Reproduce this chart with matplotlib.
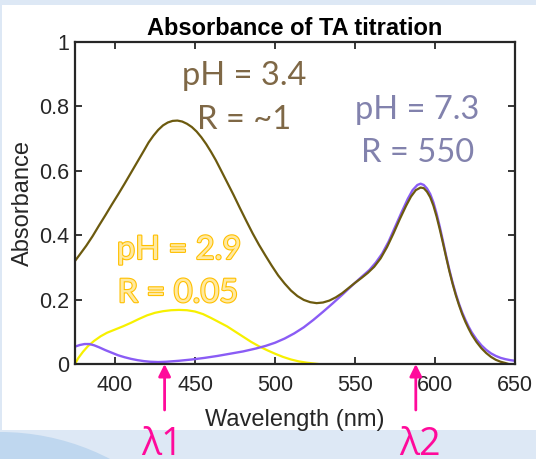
import matplotlib
matplotlib.use("Agg")
import matplotlib.pyplot as plt
import matplotlib.patheffects as pe
from matplotlib.patches import Rectangle, Ellipse

# Dados (comprimento de onda em nm, absorbância)
wl_ph34 = [375, 378, 382, 386, 390, 394, 398, 402, 406, 410, 414, 418, 421, 424,
           427, 430, 433, 436, 439, 442, 445, 448, 451, 454, 457, 460, 463, 466,
           470, 474, 478, 482, 486, 490, 494, 498, 502, 506, 510, 514, 518, 522,
           526, 530, 534, 538, 542, 546, 550, 554, 558, 562, 566, 570, 574, 578,
           582, 585, 588, 591, 593, 595, 597, 599, 601, 603, 605, 607, 609, 611,
           613, 615, 617, 619, 621, 623, 626, 629, 632, 635, 638, 641, 644, 646]
abs_ph34 = [0.320, 0.340, 0.367, 0.397, 0.430, 0.462, 0.495, 0.527, 0.560, 0.594,
            0.628, 0.662, 0.688, 0.709, 0.727, 0.741, 0.750, 0.755, 0.756, 0.753,
            0.746, 0.736, 0.722, 0.704, 0.683, 0.659, 0.633, 0.604, 0.565, 0.526,
            0.485, 0.445, 0.406, 0.370, 0.337, 0.305, 0.275, 0.250, 0.228, 0.211,
            0.199, 0.192, 0.189, 0.191, 0.197, 0.207, 0.220, 0.236, 0.252, 0.267,
            0.283, 0.302, 0.328, 0.363, 0.405, 0.450, 0.492, 0.520, 0.540, 0.548,
            0.546, 0.535, 0.518, 0.492, 0.458, 0.418, 0.375, 0.331, 0.288, 0.249,
            0.214, 0.183, 0.155, 0.131, 0.110, 0.091, 0.068, 0.049, 0.034, 0.022,
            0.013, 0.007, 0.003, 0.000]

wl_ph73 = [375, 378, 381, 384, 387, 390, 394, 398, 402, 406, 410, 414, 418, 422,
           427, 432, 440, 448, 456, 464, 472, 480, 488, 494, 500, 506, 512, 518,
           524, 530, 536, 542, 548, 554, 559, 563, 567, 571, 575, 579, 583, 586,
           589, 591, 593, 595, 597, 599, 601, 603, 605, 607, 609, 611, 613, 615,
           617, 619, 621, 623, 626, 629, 632, 635, 638, 641, 644, 647, 650]
abs_ph73 = [0.054, 0.059, 0.062, 0.062, 0.058, 0.052, 0.043, 0.035, 0.027, 0.021,
            0.016, 0.012, 0.009, 0.007, 0.006, 0.007, 0.010, 0.014, 0.019, 0.025,
            0.032, 0.039, 0.048, 0.056, 0.066, 0.079, 0.095, 0.114, 0.137, 0.162,
            0.188, 0.215, 0.243, 0.270, 0.292, 0.315, 0.343, 0.380, 0.425, 0.470,
            0.513, 0.540, 0.556, 0.560, 0.556, 0.545, 0.528, 0.502, 0.467, 0.426,
            0.381, 0.335, 0.292, 0.253, 0.218, 0.187, 0.160, 0.137, 0.116, 0.098,
            0.076, 0.058, 0.044, 0.033, 0.025, 0.019, 0.015, 0.012, 0.010]

wl_ph29 = [375, 377, 380, 383, 387, 391, 395, 400, 405, 410, 415, 420, 425, 430,
           435, 440, 445, 450, 455, 460, 465, 470, 475, 480, 485, 490, 495, 500,
           505, 510, 515, 520, 527]
abs_ph29 = [0.000, 0.018, 0.038, 0.055, 0.072, 0.086, 0.097, 0.107, 0.117, 0.128,
            0.140, 0.151, 0.159, 0.164, 0.167, 0.168, 0.167, 0.163, 0.155, 0.143,
            0.130, 0.117, 0.101, 0.085, 0.069, 0.055, 0.043, 0.032, 0.022, 0.014,
            0.008, 0.004, 0.000]

x_ticks = [400, 450, 500, 550, 600, 650]
y_ticks = [0, 0.2, 0.4, 0.6, 0.8, 1]
y_tick_labels = ["0", "0.2", "0.4", "0.6", "0.8", "1"]

lambda_pos = [431, 588]
lambda_labels = ["λ1", "λ2"]

fig = plt.figure(figsize=(5.36, 4.59), dpi=100)
fig.patch.set_facecolor("#dde8f5")

# fundo estilo slide
fig.patches.append(Ellipse((0, -211 / 459), 2 * 238 / 536, 2 * 238 / 459,
                           transform=fig.transFigure, facecolor="#bfd7ef",
                           edgecolor="none", zorder=-3))
fig.patches.append(Rectangle((2 / 536, 29 / 459), 1, 425 / 459,
                             transform=fig.transFigure, facecolor="white",
                             edgecolor="none", zorder=-2))

ax = fig.add_axes([75 / 536, 95 / 459, 440 / 536, 322 / 459])
ax.set_facecolor("white")

ax.plot(wl_ph29, abs_ph29, color="#f7f000", lw=1.6)
ax.plot(wl_ph73, abs_ph73, color="#8a5cf5", lw=1.7)
ax.plot(wl_ph34, abs_ph34, color="#6c5a0e", lw=1.6)

ax.set_xlim(375, 650)
ax.set_ylim(0, 1)
ax.set_xticks(x_ticks)
ax.set_yticks(y_ticks)
ax.set_yticklabels(y_tick_labels)

for lab in ax.get_xticklabels() + ax.get_yticklabels():
    lab.set_fontfamily("Liberation Sans")
    lab.set_fontsize(15.5)

ax.tick_params(direction="in", length=5, width=1.3, color="#262626",
               labelcolor="#262626", top=True, right=True)
ax.tick_params(axis="x", pad=8)
ax.tick_params(axis="y", pad=4)
for s in ax.spines.values():
    s.set_linewidth(1.6)
    s.set_color("#262626")

ax.set_title("Absorbance of TA titration", fontsize=17, fontweight="bold",
             fontfamily="Liberation Sans", pad=5)
ax.set_xlabel("Wavelength (nm)", fontsize=17, fontfamily="Liberation Sans",
              color="#262626", labelpad=9)
ax.set_ylabel("Absorbance", fontsize=17, fontfamily="Liberation Sans",
              color="#262626", labelpad=4)

# anotações de texto
fam = ["Lato", "DejaVu Sans"]
fs = 23.5
ax.text(480.6, 0.894, "pH = 3.4", color="#7f6846", fontsize=fs, family=fam,
        ha="center", va="center")
ax.text(480.6, 0.758, "R = ~1", color="#7f6846", fontsize=fs, family=fam,
        ha="center", va="center")
ax.text(589, 0.789, "pH = 7.3", color="#8282ad", fontsize=fs, family=fam,
        ha="center", va="center")
ax.text(589, 0.655, "R = 550", color="#8282ad", fontsize=fs, family=fam,
        ha="center", va="center")
glow = [pe.withStroke(linewidth=1.6, foreground="#ffc000")]
ax.text(440, 0.354, "pH = 2.9", color="#ffe9a0", fontsize=fs, family=fam,
        ha="center", va="center", path_effects=glow)
ax.text(439.4, 0.220, "R = 0.05", color="#ffe9a0", fontsize=fs, family=fam,
        ha="center", va="center", path_effects=glow)

# setas e rótulos lambda
for lam, txt, dx in zip(lambda_pos, lambda_labels, [-3, 4]):
    ax.annotate("", xy=(lam, 0), xytext=(0, -46), textcoords="offset pixels",
                arrowprops=dict(arrowstyle="-|>", color="#ff0a9b", lw=2,
                                mutation_scale=18, shrinkA=0, shrinkB=0),
                annotation_clip=False)
    ax.annotate(txt, xy=(lam, 0), xytext=(dx, -91), textcoords="offset pixels",
                color="#ff0a9b", fontsize=27, family=["Open Sans", "DejaVu Sans"],
                ha="center", va="baseline", annotation_clip=False)

fig.savefig("out.png", dpi=100, facecolor=fig.get_facecolor())
